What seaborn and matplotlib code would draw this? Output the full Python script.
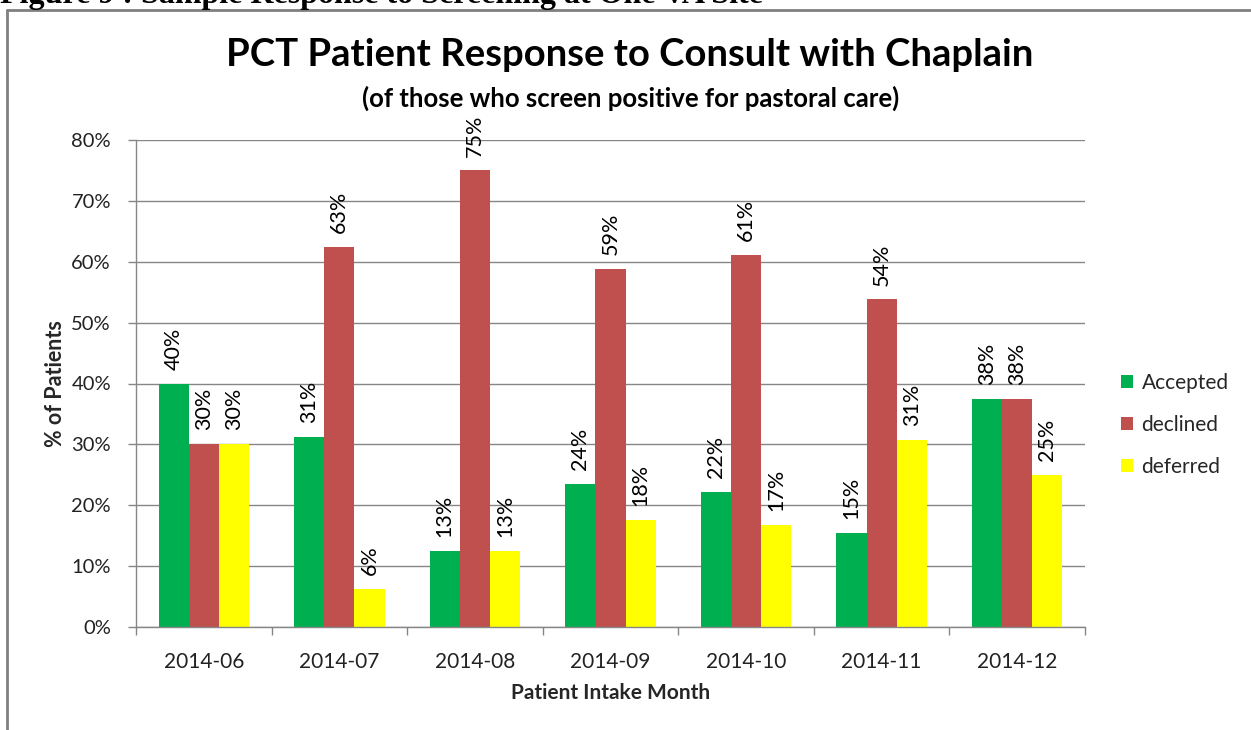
import matplotlib
matplotlib.use("Agg")
import matplotlib.pyplot as plt
import seaborn as sns
import pandas as pd
import numpy as np
from matplotlib.lines import Line2D
from matplotlib.patches import Patch

months = ["2014-06", "2014-07", "2014-08", "2014-09", "2014-10", "2014-11", "2014-12"]
accepted = [40.0, 31.25, 12.5, 23.5, 22.2, 15.4, 37.5]
declined = [30.0, 62.5, 75.0, 58.8, 61.1, 53.8, 37.5]
deferred = [30.0, 6.25, 12.5, 17.6, 16.7, 30.8, 25.0]
series_names = ["Accepted", "declined", "deferred"]
colors = ["#00B050", "#C0504D", "#FFFF00"]
yticks = [0, 10, 20, 30, 40, 50, 60, 70, 80]

df = pd.DataFrame({
    "month": months * 3,
    "response": sum([[s] * len(months) for s in series_names], []),
    "value": accepted + declined + deferred,
})

sns.set_theme(style="white")
plt.rcParams["font.family"] = ["Lato", "DejaVu Sans"]

fig = plt.figure(figsize=(12.51, 7.30), dpi=100)
ax = fig.add_axes([136/1251, 1 - 627/730, (1085-136)/1251, (627-140)/730])

sns.barplot(data=df, x="month", y="value", hue="response", order=months,
            hue_order=series_names, palette=colors, width=0.667,
            linewidth=0, saturation=1, ax=ax, legend=False, errorbar=None)

for cont in ax.containers:
    labels = [f"{int(np.floor(v + 0.5))}%" for v in cont.datavalues]
    ax.bar_label(cont, labels=labels, rotation=90, padding=10, fontsize=15.5, color="#000000")

ax.set_ylim(0, 80)
ax.set_xlim(-0.5, len(months) - 0.5)
ax.set_yticks(yticks)
ax.set_yticklabels([f"{t}%" for t in yticks], fontsize=14.5, color="#222222")
ax.tick_params(axis="y", which="major", left=True, length=6, color="#868686", width=1, pad=12)
ax.set_xticks(range(len(months)))
ax.set_xticklabels(months, fontsize=15, color="#222222")
ax.tick_params(axis="x", which="major", bottom=False, pad=12)
ax.set_xticks(np.arange(-0.5, len(months), 1.0), minor=True)
ax.tick_params(axis="x", which="minor", bottom=True, length=6, color="#868686", width=1)
ax.yaxis.grid(True, color="#868686", linewidth=1)
ax.set_axisbelow(True)
for s in ["top", "right"]:
    ax.spines[s].set_visible(False)
for s in ["left", "bottom"]:
    ax.spines[s].set_color("#868686")
    ax.spines[s].set_linewidth(1)

ax.set_xlabel("Patient Intake Month", fontsize=15, fontweight="bold", labelpad=8)
ax.set_ylabel("% of Patients", fontsize=15.5, fontweight="bold", labelpad=4)

handles = [Patch(facecolor=c, edgecolor="none") for c in colors]
fig.legend(handles, series_names, loc="center left", bbox_to_anchor=(1102/1251, 1 - 425/730),
           frameon=False, fontsize=15, handlelength=0.6, handleheight=0.6,
           handletextpad=0.4, labelspacing=1.05)

fig.text(630/1251, 1 - 55/730, "PCT Patient Response to Consult with Chaplain",
         ha="center", va="center", fontsize=27.5, fontweight="bold", color="#000000")
fig.text(631/1251, 1 - 98/730, "(of those who screen positive for pastoral care)",
         ha="center", va="center", fontsize=18.5, fontweight="bold", color="#000000")

fig.text(0.0, 1 - 3/730, "Figure 9 : Sample Response to Screening at One VA Site",
         ha="left", va="baseline", fontsize=23, fontweight="bold",
         family=["Liberation Serif", "DejaVu Serif"], color="#000000")

fig.add_artist(Line2D([7/1251, 7/1251], [0, 1 - 10/730], transform=fig.transFigure,
                      color="#808080", linewidth=2))
fig.add_artist(Line2D([7/1251, 1], [1 - 10/730, 1 - 10/730], transform=fig.transFigure,
                      color="#808080", linewidth=2))

fig.savefig("out.png", dpi=100)
